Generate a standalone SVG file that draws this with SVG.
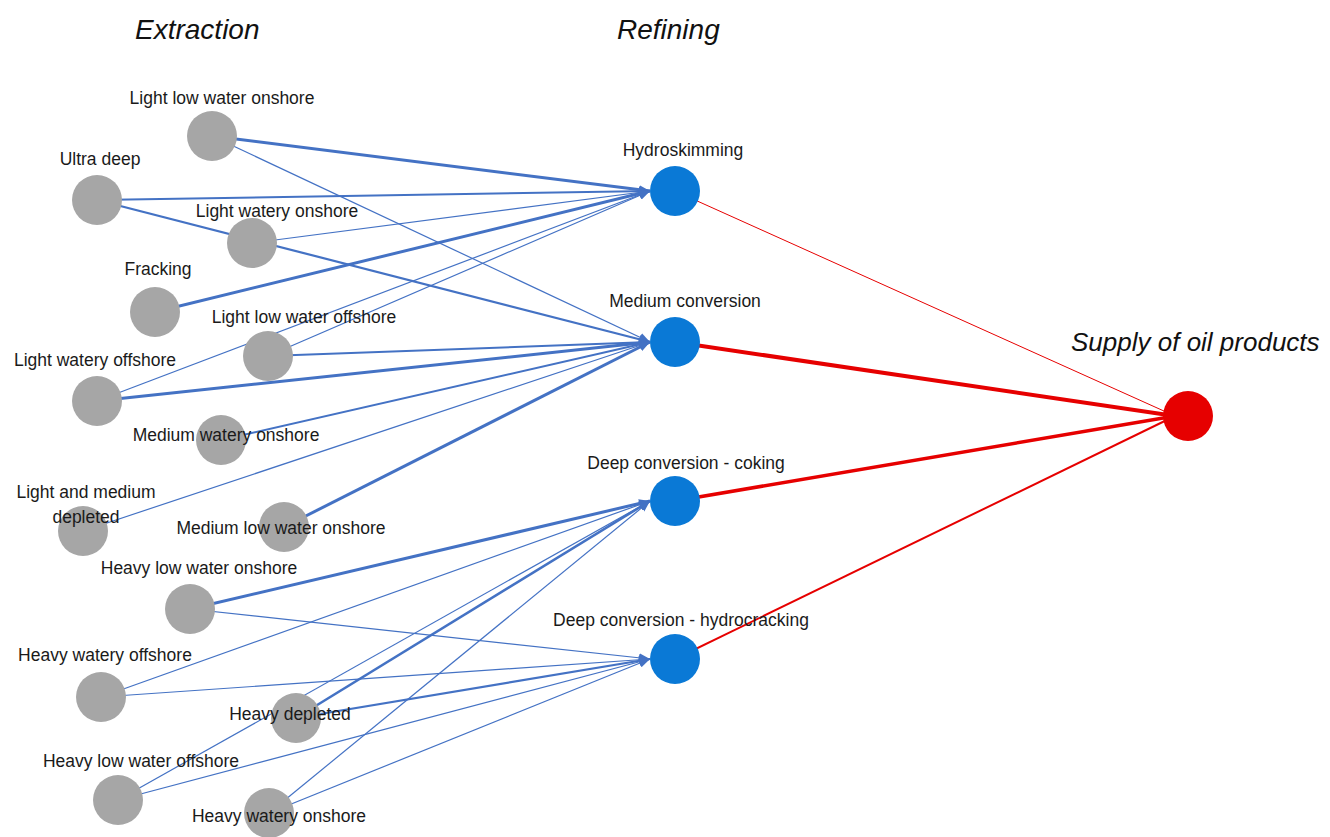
<svg xmlns="http://www.w3.org/2000/svg" width="1330" height="837" viewBox="0 0 1330 837">
<style>
.lbl{font-family:"Liberation Sans",Arial,sans-serif;font-size:17.5px;fill:#1a1a1a;text-anchor:middle}
.ttl{font-family:"Liberation Sans",Arial,sans-serif;font-style:italic;font-size:28px;fill:#111}
.src{fill:#A6A6A6}
.ref{fill:#0A79D6}
.out{fill:#E60000}
.b{stroke:#4472C4;fill:none;marker-end:url(#ah)}
.r{stroke:#E60000;fill:none}
</style>
<defs>
<marker id="ah" markerUnits="userSpaceOnUse" markerWidth="12" markerHeight="10" refX="11" refY="5" orient="auto">
<path d="M0,0.5 L11,5 L0,9.5 z" fill="#4472C4"/>
</marker>
</defs>
<rect width="1330" height="837" fill="#fff"/>
<text class="ttl" x="135" y="39">Extraction</text>
<text class="ttl" x="617" y="39">Refining</text>
<text class="ttl" x="1071" y="351" style="font-size:26px">Supply of oil products</text>
<g id="connectors">
<line class="b" x1="212" y1="136" x2="650" y2="191" stroke-width="3"/>
<line class="b" x1="97" y1="200" x2="650" y2="191" stroke-width="2"/>
<line class="b" x1="252" y1="243" x2="650" y2="191" stroke-width="1.2"/>
<line class="b" x1="155" y1="312" x2="650" y2="191" stroke-width="3"/>
<line class="b" x1="268" y1="356" x2="650" y2="191" stroke-width="1.2"/>
<line class="b" x1="97" y1="401" x2="650" y2="191" stroke-width="1.2"/>
<line class="b" x1="212" y1="136" x2="650" y2="342" stroke-width="1.2"/>
<line class="b" x1="97" y1="200" x2="650" y2="342" stroke-width="2.2"/>
<line class="b" x1="268" y1="356" x2="650" y2="342" stroke-width="2"/>
<line class="b" x1="97" y1="401" x2="650" y2="342" stroke-width="3"/>
<line class="b" x1="221" y1="440" x2="650" y2="342" stroke-width="2"/>
<line class="b" x1="83" y1="531" x2="650" y2="342" stroke-width="1.2"/>
<line class="b" x1="284" y1="527" x2="650" y2="342" stroke-width="3"/>
<line class="b" x1="190" y1="609" x2="650" y2="501" stroke-width="3"/>
<line class="b" x1="101" y1="697" x2="650" y2="501" stroke-width="1.2"/>
<line class="b" x1="296" y1="718" x2="650" y2="501" stroke-width="2.5"/>
<line class="b" x1="118" y1="800" x2="650" y2="501" stroke-width="1.2"/>
<line class="b" x1="269" y1="813" x2="650" y2="501" stroke-width="1.2"/>
<line class="b" x1="190" y1="609" x2="650" y2="659" stroke-width="1.2"/>
<line class="b" x1="101" y1="697" x2="650" y2="659" stroke-width="1.2"/>
<line class="b" x1="296" y1="718" x2="650" y2="659" stroke-width="2.2"/>
<line class="b" x1="118" y1="800" x2="650" y2="659" stroke-width="1.2"/>
<line class="b" x1="269" y1="813" x2="650" y2="659" stroke-width="1.2"/>
<line class="r" x1="675" y1="191" x2="1175" y2="416" stroke-width="1"/>
<line class="r" x1="675" y1="342" x2="1175" y2="416" stroke-width="4"/>
<line class="r" x1="675" y1="501" x2="1175" y2="416" stroke-width="3.5"/>
<line class="r" x1="675" y1="659" x2="1175" y2="416" stroke-width="2"/>
</g>
<g id="n-llwon"><circle class="src" cx="212" cy="136" r="25"/><text class="lbl" x="222" y="104">Light low water onshore</text></g>
<g id="n-ud"><circle class="src" cx="97" cy="200" r="25"/><text class="lbl" x="100" y="165">Ultra deep</text></g>
<g id="n-lwon"><circle class="src" cx="252" cy="243" r="25"/><text class="lbl" x="277" y="217">Light watery onshore</text></g>
<g id="n-frack"><circle class="src" cx="155" cy="312" r="25"/><text class="lbl" x="158" y="275">Fracking</text></g>
<g id="n-llwoff"><circle class="src" cx="268" cy="356" r="25"/><text class="lbl" x="304" y="323">Light low water offshore</text></g>
<g id="n-lwoff"><circle class="src" cx="97" cy="401" r="25"/><text class="lbl" x="95" y="366">Light watery offshore</text></g>
<g id="n-mwon"><circle class="src" cx="221" cy="440" r="25"/><text class="lbl" x="226" y="441">Medium watery onshore</text></g>
<g id="n-lmdep"><circle class="src" cx="83" cy="531" r="25"/><text class="lbl" x="86" y="498">Light and medium</text><text class="lbl" x="86" y="523">depleted</text></g>
<g id="n-mlwon"><circle class="src" cx="284" cy="527" r="25"/><text class="lbl" x="281" y="534">Medium low water onshore</text></g>
<g id="n-hlwon"><circle class="src" cx="190" cy="609" r="25"/><text class="lbl" x="199" y="574">Heavy low water onshore</text></g>
<g id="n-hwoff"><circle class="src" cx="101" cy="697" r="25"/><text class="lbl" x="105" y="661">Heavy watery offshore</text></g>
<g id="n-hdep"><circle class="src" cx="296" cy="718" r="25"/><text class="lbl" x="290" y="720">Heavy depleted</text></g>
<g id="n-hlwoff"><circle class="src" cx="118" cy="800" r="25"/><text class="lbl" x="141" y="767">Heavy low water offshore</text></g>
<g id="n-hwon"><circle class="src" cx="269" cy="813" r="25"/><text class="lbl" x="279" y="822">Heavy watery onshore</text></g>
<g id="n-hydro"><circle class="ref" cx="675" cy="191" r="25"/><text class="lbl" x="683" y="156">Hydroskimming</text></g>
<g id="n-medconv"><circle class="ref" cx="675" cy="342" r="25"/><text class="lbl" x="685" y="307">Medium conversion</text></g>
<g id="n-coking"><circle class="ref" cx="675" cy="501" r="25"/><text class="lbl" x="686" y="469">Deep conversion - coking</text></g>
<g id="n-hydrocrack"><circle class="ref" cx="675" cy="659" r="25"/><text class="lbl" x="681" y="626">Deep conversion - hydrocracking</text></g>
<g id="n-supply"><circle class="out" cx="1188" cy="416" r="25"/></g>
</svg>
